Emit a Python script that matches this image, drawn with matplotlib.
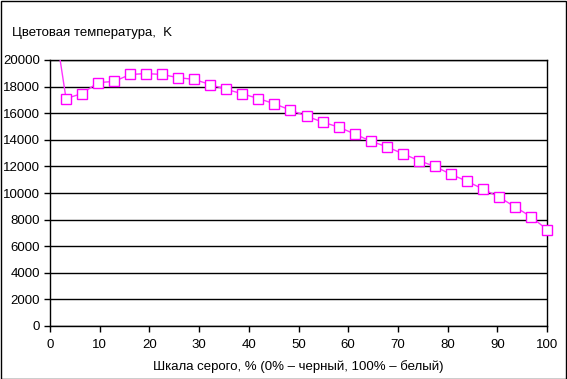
import matplotlib
matplotlib.use("Agg")
import matplotlib.pyplot as plt
from matplotlib.patches import Rectangle

# gray level, % (32 steps of 100/31) and colour temperature, K
steps = list(range(32))
gray = [k * 100 / 31 for k in steps]
temp = [25000, 17100, 17480, 18300, 18390, 18910, 18980, 18910, 18670, 18540,
        18150, 17790, 17460, 17100, 16710, 16230, 15780, 15330, 14960, 14440,
        13900, 13480, 12960, 12440, 12000, 11410, 10890, 10300, 9700, 8960,
        8220, 7250]
yticks = list(range(0, 20001, 2000))
xticks = list(range(0, 101, 10))

plt.rcParams['font.family'] = ['Liberation Sans', 'DejaVu Sans']

fig = plt.figure(figsize=(5.67, 3.79), dpi=100)
fig.patch.set_facecolor('white')
ax = fig.add_axes([50 / 567, 1 - 326 / 379, 497 / 567, 266 / 379])

# line is clipped at the top, markers (from the 2nd point on) are not
ax.plot(gray, temp, color='#ff33ff', lw=1, zorder=3)
ax.plot(gray[1:], temp[1:], ls='none', marker='s', ms=7,
        mfc='white', mec='#ff00ff', mew=1, zorder=4, clip_on=False)

ax.set_xlim(0, 100)
ax.set_ylim(0, 20000)
ax.set_xticks(xticks)
ax.set_yticks(yticks)
ax.grid(axis='y', color='black', lw=1)
ax.set_axisbelow(True)
for s in ax.spines.values():
    s.set_color('black')
    s.set_linewidth(1)
ax.tick_params(direction='out', length=4, width=1, labelsize=9.5, pad=3, color='black')
ax.tick_params(axis='x', pad=5)

ax.set_xlabel("Шкала серого, % (0% – черный, 100% – белый)", fontsize=9.5, labelpad=7)
fig.text(12 / 567, 1 - 33 / 379, "Цветовая температура,  K", fontsize=9.5,
         ha='left', va='center')

# outer frame
fig.patches.append(Rectangle((0.5 / 567, 0.5 / 379), 1 - 1.5 / 567, 1 - 1.5 / 379,
                             transform=fig.transFigure, fill=False,
                             edgecolor='black', lw=1))

fig.savefig('out.png', dpi=100)
